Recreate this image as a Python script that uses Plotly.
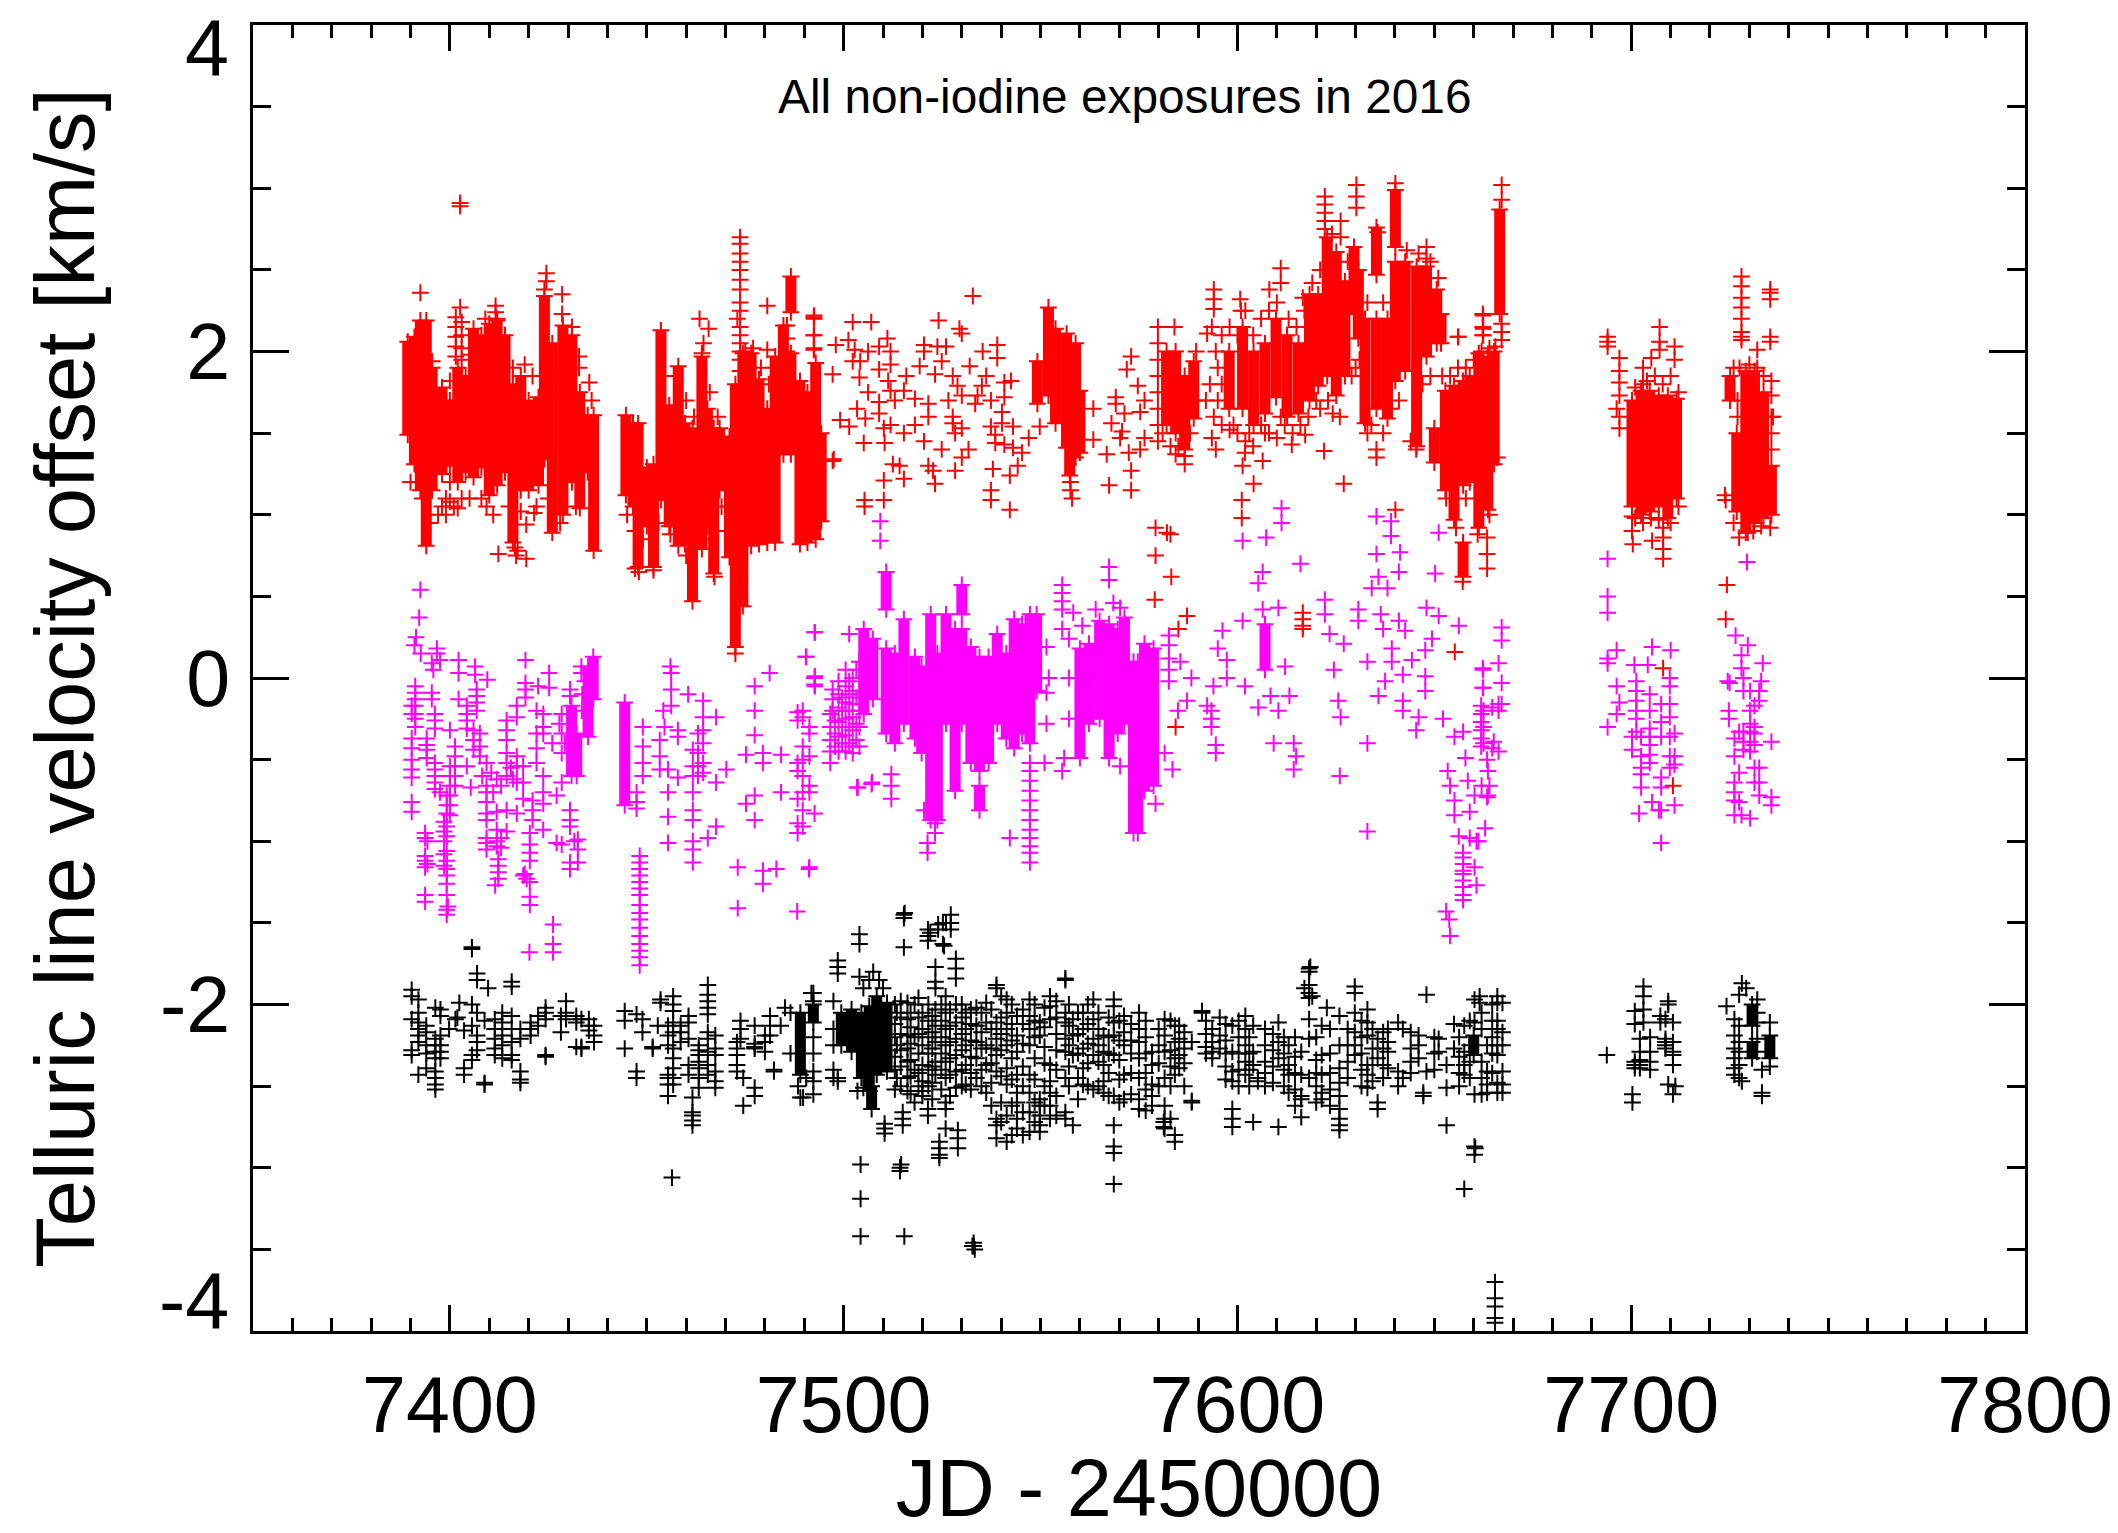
import plotly.graph_objects as go

# Solid runs of overlapping exposures, read as (JD, lowest, highest)
red_bands_a = [(7389.3,1.49,2.06),(7391,1.31,2.09),(7392.5,1.15,2.19),(7394,0.81,2.19),(7395.5,1.15,1.90),(7398,1.25,1.78),
 (7400,1.3,1.7),(7402,1.2,1.9),(7404,1.26,1.85),(7406,1.23,2.14),(7408,1.29,2.10),(7410,1.12,2.17),(7412,1.18,2.19),(7414,1.26,2.10),(7416,0.83,1.80),
 (7418,1.15,1.85),(7420,1.15,1.70),(7422.5,1.18,1.72),(7424,1.34,2.34),(7426,0.89,2.05),(7428.7,1.0,2.16),(7431,1.2,2.10),(7433,1.04,1.75),(7435,1.26,1.61),(7436.5,0.78,1.61)]
red_bands_b = [(7444.7,1.12,1.61),(7446.5,1.05,1.56),(7447.8,0.68,1.56),(7450,0.93,1.29),(7451.7,0.68,1.31),(7453.6,1.09,2.13),(7455.7,0.93,1.67),
 (7458,0.81,1.91),(7459.7,0.82,1.56),(7461.6,0.47,1.53),(7464,0.79,1.97),(7465.4,0.93,1.65),(7467,0.64,1.53),(7468.5,1.15,1.53),(7471,0.74,1.48),
 (7472.5,0.19,1.80),(7474.4,0.44,1.99),(7476.5,0.81,1.99),(7478.5,0.82,1.83),(7480.6,0.83,1.65),(7482.6,0.83,1.97),(7484.7,1.37,2.16),
 (7486.6,2.24,2.46),(7486.6,1.37,1.99),(7488.9,0.82,1.82),(7490.8,0.83,1.75),(7492.9,0.85,1.93),(7494.3,0.96,1.5)]
red_bands_c = [(7549.2,1.68,1.94),(7552,1.73,2.27),(7553.8,1.56,2.14),(7556.6,1.41,2.11),(7558.9,1.35,2.05),(7557.4,1.24,1.47),(7560,1.38,1.76),
 (7582,1.55,2.0),(7584.3,1.5,2.0),(7586.6,1.4,1.85),(7588.9,1.59,1.94),
 (7597.9,1.65,2.0),(7601.3,1.65,2.15),(7604.1,1.55,2.0),(7607,1.62,2.05),(7609.8,1.72,2.2),(7612.6,1.6,2.1),(7615.5,1.62,2.05),(7618.3,1.7,2.35),
 (7620.5,1.79,2.35),(7622.8,1.85,2.70),(7625.1,1.73,2.61),(7627.3,1.85,2.43),(7629.6,2.23,2.64),(7630.7,2.08,2.5),(7632.4,1.56,2.2),(7635.3,1.65,2.2),
 (7635.3,2.47,2.76),(7638.1,1.59,2.2),(7640.1,2.64,2.99),(7640.1,1.82,2.55),(7642.6,1.88,2.55),(7645.5,1.42,2.52),(7648,1.97,2.52),(7650.6,2.05,2.38),(7651.7,2.05,2.23)]
red_bands_d = [(7650,1.32,1.53),(7652.8,1.15,1.76),(7655,0.97,1.79),(7657.3,1.18,1.82),(7657.3,0.62,0.83),(7659,1.2,1.85),(7661.3,0.92,1.99),(7663.6,1.03,1.97),(7665.2,1.31,2.0),(7666.6,2.23,2.87)]
red_bands_e = [(7700.2,1.05,1.70),(7702.5,1.0,1.76),(7704.7,1.02,1.76),(7707,1.05,1.73),(7709.3,0.98,1.73),(7711.5,1.10,1.71),
 (7725.1,1.70,1.85),(7726.8,1.02,1.5),(7729.1,0.89,1.88),(7731.3,0.95,1.88),(7733.6,0.98,1.75),(7735.6,1.0,1.3)]

red_points_a = [(7392.5,2.36),(7402.6,2.91),(7402.6,2.89),(7402.6,2.27),(7401.5,2.21),(7401.5,2.15),(7401.5,2.09),(7401.5,2.03),(7401.5,1.97),(7403,2.18),(7403,2.10),(7403,2.02),(7403,1.95),
 (7400,1.82),(7400,1.62),(7400,1.42),(7400,1.2),(7400,1.08),(7399,1.7),(7399,1.1),(7398,1.05),(7401,1.05),(7402,1.04),(7403,1.1),
 (7424.5,2.48),(7424.5,2.43),(7424,2.38),(7428.5,2.35),(7428.5,2.23),(7411.6,2.28),(7411.6,2.24),(7412,2.2),(7432.8,1.97),(7432.8,1.9),(7435.4,1.81),(7434,1.6),
 (7412.3,0.76),(7419.4,0.73),(7416.8,0.75),(7409.3,1.05),(7421.4,1.01),(7419.4,0.94),(7463.4,2.2),(7465.7,2.14),(7464.4,2.05),(7464,1.99),(7416.5,0.8),(7417.2,0.78),
 (7473.7,2.70),(7473.7,2.66),(7473.7,2.6),(7473.7,2.55),(7473.7,2.5),(7473.7,2.44),(7473.7,2.38),(7473.7,2.3),(7473.7,2.25),(7473,2.2),(7473.7,2.15),(7473.7,2.1),(7473.7,2.05),(7473.7,2.0),(7473.7,1.95),(7473.7,1.88),
 (7480.6,2.28),(7480.6,2.01),(7485.6,2.16),(7485.6,2.08),(7485.6,2.0),(7492.5,2.22),(7492.5,2.2),(7492.5,2.1),(7492.5,2.02),(7467.2,0.62),(7497.5,1.34),(7395.5,1.94),(7448,0.65),(7451.7,0.66),(7447,0.67),(7472.5,0.15),
 (7390,1.2),(7393,1.1),(7395,0.95),(7397,1.0),(7399,1.0),(7405,1.1),(7408,1.1),(7411,1.0),(7415,1.05),(7418,1.02),(7422,1.05),(7425,1.1),(7428,0.95),(7432,1.05),(7436,1.7),(7405,1.98),(7409,2.2),(7416,1.9),(7419,1.92),(7421,1.85),(7423,1.85),(7431,2.15),
 (7445,1.0),(7447,0.9),(7449,0.85),(7453,0.95),(7456,0.88),(7460,0.75),(7463,0.85),(7466,0.85),(7469,1.05),(7470,0.9),(7457,1.85),(7460,1.7),(7462,1.6),(7466,1.75),(7468,1.6),(7475,2.0),(7477,2.02),(7479,1.9),(7481,1.8),(7483,1.9)]
red_points_b = [(7492.4,2.21),(7492.4,2.10),(7492.4,2.01),(7497.2,1.86),(7497.2,1.33),(7498,2.04),(7499.1,1.58),(7501.4,1.54),(7501.2,2.07),(7502.3,2.18),(7502.8,2.01),(7502.3,1.94),(7504.2,1.94),(7504,1.84),(7506.2,2.0),(7507,2.18),(7506.2,1.75),(7503.4,1.65),(7505.5,1.59),(7505.1,1.44),(7505.3,1.09),(7505.3,1.05),
 (7509,2.03),(7511.1,2.08),(7511.9,2.0),(7509,1.89),(7511.9,1.92),(7511.3,1.82),(7511.9,1.76),(7513,1.70),(7515.3,1.76),(7515.9,1.85),(7509,1.69),(7509,1.62),(7510.2,1.53),(7511.9,1.55),(7515.3,1.5),(7510.4,1.44),(7512.5,1.31),(7514.2,1.30),(7515.3,1.22),(7510.2,1.21),(7510.2,1.09),
 (7518.1,1.71),(7518.1,1.55),(7519.3,1.91),(7520.4,2.04),(7520.4,2.0),(7523.2,1.86),(7524.1,2.19),(7523.8,2.03),(7526,2.03),(7524.9,1.94),(7526.6,1.70),(7521.5,1.68),(7521.5,1.6),(7520.4,1.45),(7524.9,1.40),(7521.5,1.30),(7522.7,1.27),(7523.2,1.19),
 (7527.7,1.85),(7528.9,1.79),(7529.4,2.14),(7530,2.11),(7530,1.73),(7527.7,1.56),(7528.3,1.5),(7527.7,1.6),(7530,1.53),(7531.7,1.4),(7530,1.35),(7528.3,1.27),(7532.8,2.34),(7532,1.91),(7533.4,1.68),(7534,1.73),(7535.1,1.79),(7535.3,2.0),(7536.2,1.85),(7537.4,1.70),
 (7539,2.04),(7539,1.96),(7540.8,1.81),(7542.5,1.82),(7540.8,1.72),(7537.4,1.54),(7538.5,1.49),(7538.5,1.44),(7540.2,1.63),(7540.2,1.56),(7543,1.54),(7540.8,1.43),(7543,1.41),(7545.3,1.38),(7544.2,1.30),(7542.2,1.24),(7537.9,1.28),(7537.4,1.15),(7537.4,1.09),(7542.2,1.03),(7547,1.47),(7549.8,1.54),
 (7563.4,1.65),(7569.1,1.72),(7569.1,1.68),(7563.4,1.46),(7566.8,1.37),(7568,1.56),(7571.3,1.62),(7570.7,1.51),(7567.4,1.18),(7573,1.97),(7571.9,1.89),(7575.3,1.63),(7574.7,1.79),(7576.4,1.70),(7576.4,1.47),(7570.2,1.47),(7572.4,1.38),(7573,1.27),(7573,1.15),(7575.3,1.40),(7557.6,1.2),(7557.6,1.15),(7558,1.1)]
red_points_c = [(7584.3,1.37),(7586.6,1.31),(7586.6,1.36),(7579.8,2.15),(7579.8,2.05),(7579.8,1.95),(7579.8,1.85),(7579.8,1.75),(7579.8,1.65),(7579.8,1.55),(7579.8,1.45),(7584,2.15),(7589.5,2.0),
 (7579.2,0.92),(7582.1,0.89),(7583,0.88),(7579.2,0.75),(7583.2,0.62),(7579,0.48),(7587.2,0.38),(7585,0.30),(7584.3,-0.30),(7616.6,0.40),(7616.6,0.36),(7616.6,0.32),(7616.6,0.30),
 (7594,2.38),(7594,2.32),(7594,2.26),(7592.3,2.11),(7593.5,2.15),(7594.5,2.0),(7595,1.9),(7593,1.8),(7595,1.7),(7594,1.6),(7592,1.7),(7596,1.55),(7593.5,1.47),(7594.5,1.4),(7600.7,2.32),(7600.9,2.25),(7608.1,2.38),(7611,2.51),(7611,2.42),(7616.6,2.33),
 (7622.2,2.95),(7622.2,2.9),(7622.2,2.85),(7622.2,2.8),(7622.2,2.75),(7626.2,2.80),(7626.2,2.70),(7630.2,3.02),(7630.2,2.95),(7630.2,2.88),(7635.6,2.73),(7640.1,3.03),(7648,2.64),(7648,2.57),
 (7601.9,1.38),(7601.3,1.3),(7606.4,1.33),(7601.1,1.09),(7601.1,0.98),(7604.1,1.19),(7627,1.19),(7622,1.39),(7635.3,1.40),(7635.3,1.35),(7610,1.47),(7613.8,1.43),(7617.2,1.49),(7624.2,1.62),(7640.1,1.03),(7656,2.09),(7662.4,2.22),(7662.4,2.14),(7662.4,2.1),
 (7598,1.52),(7600,1.5),(7602,1.45),(7604,1.42),(7606,1.55),(7608,1.5),(7612,1.55),(7616,1.55),(7620,1.7),(7630,1.9),(7633,1.5),(7637,1.5),(7644,1.45),(7645.4,1.4),
 (7596,2.1),(7598,2.15),(7600,2.1),(7602,2.25),(7604,2.1),(7606,2.2),(7608,2.25),(7610,2.3),(7613,2.2),(7615,2.15),(7617,2.25),(7619,2.42),(7621,2.5),(7624,2.72),(7628,2.55),(7631,1.95),(7633,2.3),(7637,2.3),(7643,2.62),(7646,2.6),(7649,2.55),(7651,2.45),
 (7596,1.8),(7599,1.55),(7603,1.5),(7607,1.5),(7611,1.6),(7614,1.5),(7618,1.6),(7621,1.65),(7623,1.7),(7626,1.6),(7629,1.85),(7634,1.55),(7639,1.65),(7641,1.7),(7647,1.8),(7649,1.85),(7581,1.5),(7583,1.42),(7585,1.42),(7588,1.5),(7590,1.7)]
red_points_d = [(7656.1,2.09),(7662.3,2.23),(7662.3,2.15),(7662.3,2.1),(7667.1,3.02),(7667.1,2.93),(7667.1,2.07),(7667.1,2.12),(7667.1,2.17),(7694,2.09),(7694,2.06),(7694,2.03),(7697,1.96),(7697,1.88),(7697,1.81),(7697,1.73),(7696.3,1.65),(7697,1.6),(7697,1.53),
 (7707.2,2.15),(7707.2,2.06),(7707.2,2.01),(7711,2.03),(7711,1.95),(7705.1,1.96),(7700.4,0.82),(7700.2,0.90),(7700.2,0.99),(7705.3,0.84),(7708.1,0.73),(7708.1,0.79),(7708.1,0.86),(7708.1,0.92),(7724,1.09),(7724.3,0.57),(7724,0.36),
 (7728,2.46),(7728,2.4),(7728,2.33),(7728,2.27),(7728,2.2),(7728,2.12),(7728,2.07),(7728,2.09),(7732,2.01),(7735.3,2.38),(7735.3,2.32),(7735.3,2.36),(7735.3,2.09),(7735.3,2.06),(7735.6,1.82),(7735.6,1.73),(7735.6,1.6),(7735.6,1.5),(7735.6,1.4),(7727.4,0.86),(7729.6,0.89),(7735.3,0.92),
 (7655.2,0.16),(7708.1,0.06),(7710.6,-0.66),(7663.4,0.86),(7663.4,0.76),(7663.4,0.67),(7657.2,0.59),(7703,1.8),(7703,1.9),(7726,1.9),(7727.5,1.9),(7723.8,1.12),
 (7701,1.78),(7704,1.82),(7706,1.85),(7708,1.8),(7710,1.85),(7712,1.75),(7701,0.98),(7703,0.95),(7705,0.98),(7707,0.97),(7710,0.95),(7712,1.05),(7727,1.6),(7727,1.7),(7730,1.92),(7732,1.9),(7733.6,1.85),(7726,0.95),(7731,0.9),(7733,0.93),(7736,1.6),
 (7652,1.85),(7654,1.85),(7656,1.9),(7658,1.9),(7660,1.95),(7662,2.0),(7664,2.02),(7665.5,2.03),(7653,1.1),(7655.5,0.92),(7658,1.1),(7661,0.88),(7664,1.0),(7666,1.35)]

magenta_bands_a = [(7430.9,-0.60,-0.17),(7432.2,-0.60,-0.34),(7435.1,-0.36,0.07),(7436.4,-0.13,0.13),(7444.4,-0.78,-0.15)]
magenta_bands_b = [(7505.1,-0.22,0.30),(7507.4,-0.13,0.24),(7510.8,0.42,0.65),(7510.8,-0.34,0.18),(7513,-0.40,0.15),(7515.3,-0.28,0.36),(7518.1,-0.37,0.13),(7519.8,-0.46,0.07),(7522.1,-0.87,0.39),(7523.8,-0.87,0.15),
 (7526,-0.28,0.39),(7528.3,-0.69,0.30),(7530,0.39,0.57),(7530,-0.28,0.30),(7532.3,-0.52,0.19),(7534.5,-0.81,-0.66),(7534.5,-0.57,0.13),(7536.8,-0.52,0.13),(7539,-0.28,0.27),(7541.3,-0.37,0.15),(7543.3,-0.43,0.36),(7545.3,-0.34,0.33),(7547.3,-0.40,0.39),(7549,-0.08,0.39)]
magenta_bands_c = [(7560,-0.49,0.18),(7562.3,-0.28,0.21),(7565,-0.25,0.35),(7567.4,-0.49,0.33),(7569.6,-0.34,0.30),(7571.3,-0.28,0.37),(7573.6,-0.95,0.10),(7574.7,-0.95,0.10),(7576.4,-0.69,0.21),(7578.7,-0.66,0.18),(7607,0.05,0.33)]

magenta_points_a = [(7392.5,0.54),(7392.2,0.37),(7391.4,0.25),(7391,0.2),(7392.6,0.15),(7396.7,0.18),(7396.7,0.15),(7397.5,0.11),(7395.4,0.09),(7395.8,0.05),(7402.2,0.11),(7402.2,0.03),(7406.4,0.07),(7406.4,0.02),(7409.5,-0.01),(7402.2,-0.13),
 (7419.2,0.11),(7419.2,-0.03),(7419.2,-0.07),(7419.2,-0.12),(7425.2,0.03),(7425.2,-0.06),(7422.4,-0.05),
 (7391.2,-0.05),(7391.2,-0.09),(7391.2,-0.13),(7391.2,-0.17),(7391.2,-0.22),(7391.2,-0.25),(7391.2,-0.30),(7390.3,-0.17),(7390.3,-0.22),(7390.3,-0.37),(7390.3,-0.43),(7390.3,-0.50),(7390.3,-0.56),(7390.3,-0.61),(7390.3,-0.76),(7390.3,-0.82),
 (7395.4,-0.09),(7395.4,-0.13),(7396.2,-0.22),(7396.2,-0.26),(7396.2,-0.31),(7394.1,-0.37),(7394.1,-0.41),(7394.1,-0.44),(7394.1,-0.49),(7396.2,-0.52),(7396.2,-0.56),(7396.2,-0.60),(7396.2,-0.64),(7396.2,-0.68),(7397.5,-0.70),
 (7400,-0.32),(7400,-0.54),(7400,-0.60),(7400,-0.66),(7400,-0.72),(7401.3,-0.42),(7401.3,-0.48),(7401.3,-0.54),(7401.3,-0.60),(7401.3,-0.66),(7399.2,-0.72),(7399.2,-0.78),
 (7399.2,-0.83),(7399.2,-0.91),(7399.2,-0.97),(7399.2,-1.06),(7399.2,-1.12),(7399.2,-1.17),(7399.2,-1.21),(7399.2,-1.26),(7399.2,-1.33),(7399.2,-1.42),(7399.2,-1.45),(7399.5,-1.40),
 (7393.7,-0.95),(7393.7,-0.98),(7394.3,-1.0),(7393.7,-1.09),(7393.7,-1.12),(7394.3,-1.14),(7393.7,-1.16),(7393.7,-1.33),(7393.7,-1.37),
 (7404.3,-0.17),(7404.3,-0.22),(7404.3,-0.26),(7404.3,-0.31),(7404.3,-0.54),(7405.3,-0.67),(7406.8,-0.07),(7406.8,-0.11),(7406.8,-0.15),(7406.8,-0.2),(7406,-0.32),(7406,-0.38),(7406,-0.44),(7407.6,-0.34),(7407.6,-0.42),(7407.6,-0.48),
 (7409.3,-0.52),(7409.3,-0.66),(7409.3,-0.70),(7409.3,-0.76),(7409.3,-0.83),(7409.3,-0.87),(7409.3,-0.98),(7409.3,-1.01),(7409.3,-1.05),(7411.9,-0.62),(7411.9,-0.82),(7411.9,-0.93),(7411.9,-1.0),(7411.9,-1.03),(7412.3,-1.11),(7412.3,-1.15),(7412.3,-1.19),(7412.3,-1.23),(7411.5,-1.27),
 (7414.4,-0.26),(7414.4,-0.32),(7414.4,-0.38),(7414.4,-0.46),(7414.4,-0.52),(7414.4,-0.6),(7414.4,-0.81),(7414.4,-0.94),(7417,-0.17),(7417,-0.24),(7417,-0.48),(7417,-0.54),(7417,-0.64),(7417,-0.83),
 (7418.6,-0.54),(7418.6,-0.64),(7418.6,-0.74),(7418.6,-1.21),(7419,-1.2),(7419.5,-1.23),(7420.3,-0.95),(7420.3,-1.02),(7420.3,-1.07),(7420.3,-1.12),(7420.3,-1.25),(7420.3,-1.34),(7420.3,-1.39),
 (7422,-0.2),(7422,-0.34),(7422,-0.43),(7422,-0.52),(7423.7,-0.22),(7423.7,-0.3),(7423.7,-0.34),(7423.7,-0.6),(7423.7,-0.7),(7423.7,-0.77),(7423.7,-0.93),(7421,-0.75),(7421,-0.81),(7421,-0.87),
 (7427.1,-0.72),(7427.1,-1.01),(7428.4,-1.02),(7426.2,-1.51),(7426.2,-1.63),(7426.2,-1.68),(7420.2,-1.68),(7428.4,-0.22),(7428.4,-0.34),(7428.4,-0.46),(7428.4,-0.64),(7430.5,-0.07),(7430.5,-0.11),(7431.6,-1.0),(7432.5,-0.99),(7432.5,-1.05),(7432.5,-1.13),(7430.5,-1.13),(7430.5,-1.17),(7430.5,-0.87),(7430.5,-0.91),(7430.5,-0.81),(7433.4,0.07),(7433.4,0.03),
 (7398.5,-0.88),(7398.5,-0.94),(7398.5,-1.0),(7398.5,-1.08),(7398.5,-1.15),(7400,-0.78),(7400,-0.84),(7411,-0.7),(7413,-0.66),(7415.5,-0.55),(7416,-0.62),(7413,-0.98),(7413,-1.04),(7408.2,-0.6),(7410.5,-0.58),(7426,-0.4),(7427.8,-0.28),(7429.2,-0.4),(7433.5,-0.2),(7433.6,-0.1),(7434.3,-0.02)]
magenta_points_b = [(7448.2,-1.09),(7448.2,-1.13),(7448.2,-1.17),(7448.2,-1.21),(7448.2,-1.25),(7448.2,-1.29),(7448.2,-1.33),(7448.2,-1.39),(7448.2,-1.44),(7448.2,-1.48),(7448.2,-1.53),(7448.2,-1.58),(7448.2,-1.63),(7448.2,-1.67),(7448.2,-1.71),(7448.2,-1.76),
 (7449,-0.3),(7449,-0.42),(7449,-0.52),(7449,-0.6),(7447.4,-0.7),(7447.4,-0.76),(7447.4,-0.8),(7454.2,-0.2),(7456,0.07),(7456.2,0.03),(7456.2,-0.07),(7456.2,-0.17),(7454.5,-0.3),(7453.3,-0.38),(7453.3,-0.48),(7453.3,-0.56),(7455.4,-0.56),(7455.4,-0.7),(7455.4,-0.85),(7455.4,-1.01),
 (7457.9,-0.32),(7457.9,-0.36),(7457.9,-0.61),(7460.5,-0.1),(7461.7,-0.44),(7461.7,-0.54),(7461.7,-0.6),(7461.7,-0.7),(7461.7,-0.81),(7461.7,-0.87),(7461.7,-1.0),(7461.7,-1.05),(7461.7,-1.13),(7464.3,-0.14),(7464.3,-0.24),(7464.3,-0.32),(7464.3,-0.4),(7464.3,-0.52),(7464.3,-0.58),(7463,-0.34),(7463,-0.46),(7463,-0.54),(7463,-0.6),
 (7467.6,-0.64),(7467.6,-0.91),(7467.6,-0.24),(7465.5,-0.98),(7470.2,-0.56),(7473.1,-1.16),(7473.1,-1.41),(7475.2,-0.47),(7475.2,-0.77),(7477.4,-0.05),(7477.4,-0.2),(7477.4,-0.35),(7477.4,-0.72),(7477.4,-0.87),(7479.5,-0.46),(7479.5,-0.52),(7479.5,-1.18),(7479.5,-1.26),(7481.2,0.03),(7482.9,-1.17),(7484.1,-0.47),(7484.1,-0.7),
 (7488.2,-1.43),(7491.3,-1.16),(7490.5,0.13),(7492.6,0.28),(7492.6,0.0),(7492.6,-0.04),(7488.3,-0.21),(7488.3,-0.26),(7488.3,-0.52),(7488.3,-0.57),(7488.3,-0.74),(7488.3,-0.89),(7488.3,-0.95),(7489.6,-0.2),(7489.6,-0.24),(7489.6,-0.42),(7489.6,-0.5),(7489.6,-0.6),(7489.6,-0.7),(7489.6,-0.81),(7489.6,-0.91),(7491.3,-0.3),(7491.3,-0.34),(7491.3,-0.48),(7491.3,-0.66),(7491.3,-0.7),(7492.6,-0.83),(7492.7,0.28),(7490.4,0.13),(7492.7,0.01),(7492.7,-0.05),(7491.2,-1.17),
 (7496.6,-0.22),(7496.6,-0.3),(7496.6,-0.38),(7496.6,-0.45),(7496.6,-0.52),(7497.2,-0.07),(7497.2,-0.13),(7497.2,-0.2),(7498.7,-0.02),(7498.7,-0.1),(7498.7,-0.18),(7498.7,-0.27),(7498.7,-0.36),(7498.7,-0.45),(7500.5,0.05),(7500.5,-0.05),(7500.5,-0.15),(7500.5,-0.25),(7500.5,-0.35),(7500.5,-0.45),
 (7502.3,0.0),(7502.3,-0.08),(7502.3,-0.16),(7502.3,-0.24),(7502.3,-0.32),(7502.3,-0.42),(7502.3,-0.46),(7504,0.1),(7504,0.0),(7504,-0.1),(7504,-0.2),(7504,-0.3),(7504,-0.42),(7501.4,0.27),(7503.6,-0.67),(7507.2,-0.64),
 (7497.8,-0.26),(7497.8,-0.34),(7497.8,-0.42),(7499.6,-0.12),(7499.6,-0.2),(7499.6,-0.3),(7499.6,-0.4),(7501.4,-0.02),(7501.4,-0.1),(7501.4,-0.2),(7501.4,-0.3),(7501.4,-0.4),(7503.2,0.05),(7503.2,-0.12),(7503.2,-0.28),(7503.2,-0.38)]
magenta_points_c = [(7509.3,0.96),(7509.3,0.84),(7503.4,-0.67),(7507.1,-0.65),(7512.1,-0.59),(7512.1,-0.66),(7512.1,-0.74),(7520.4,-0.81),(7521.3,-1.01),(7521.3,-1.07),(7523.2,-0.89),(7523.2,-0.95),(7542.2,-0.98),
 (7547.3,-0.52),(7547.3,-0.57),(7547.3,-0.63),(7547.3,-0.69),(7547.3,-0.75),(7547.3,-0.81),(7547.3,-0.87),(7547.3,-0.93),(7547.3,-0.98),(7547.3,-1.03),(7547.3,-1.07),(7547.3,-1.13),(7551,-0.52),(7551.5,0.19),(7552.1,0.0),(7551.5,-0.09),(7551.5,-0.28),
 (7555.5,0.57),(7555.5,0.52),(7555.5,0.47),(7555.5,0.42),(7555.5,0.30),(7557.2,0.24),(7558.3,0.40),(7557.2,0.0),(7557.2,-0.25),(7556,-0.49),(7555.5,-0.57),(7567.4,0.68),(7567.4,0.60),(7568.5,0.46),(7570.2,0.43),(7564,0.42),(7560.6,0.32),(7570.2,-0.54),(7579.2,-0.77),(7581.5,-0.46),(7583.5,-0.56),
 (7582.6,0.26),(7582.6,0.2),(7582.6,0.12),(7582.6,0.05),(7582.6,-0.02),(7585.5,0.1),(7588.3,0.0),(7584.9,-0.2),(7587.2,-0.14),(7593.4,-0.2),(7593.4,-0.25),(7593.4,-0.3),(7592.3,-0.17),(7594.5,-0.41),(7594.5,-0.46),(7593.9,-0.05),(7595,0.18),(7596.2,0.29),(7597.3,0.11),(7597.3,0.0),(7601.9,-0.05),(7601.3,0.35),(7601.3,0.84),(7607.3,0.86),(7611.2,1.04),(7611.2,0.95),
 (7606.4,0.65),(7605.3,0.58),(7606.4,0.42),(7610.4,0.43),(7612.1,0.07),(7608.4,-0.11),(7605.3,-0.18),(7610.4,-0.2),(7613.2,-0.11),(7609.2,-0.4),(7614.3,-0.4),(7614.9,-0.48),(7614.3,-0.56),(7616,0.7),(7622.2,0.48),(7622.2,0.39),(7623.4,0.27),(7627,0.21),(7624.5,0.05),(7625.6,-0.14),(7626.2,-0.24),(7626,-0.6),
 (7633,0.1),(7633,-0.4),(7633,-0.94),(7630.7,0.42),(7630.7,0.35),(7635.3,0.99),(7635.3,0.76),(7639,0.96),(7639,0.87),(7641.3,0.77),(7641,0.65),(7635.8,0.62),(7634.1,0.55),(7638.1,0.55),(7636.4,0.39),(7637,0.3),(7641,0.35),(7642.6,0.29),(7639.2,0.18),(7639.2,0.1),(7637.5,-0.02),(7635.8,-0.11),(7642,0.02),(7642,-0.14),(7642,-0.2),(7644.3,0.11),(7647.7,0.17),(7647.7,0.01),(7647.7,-0.08),(7649.4,0.24),(7651.1,0.38),(7648,0.43),(7651.1,0.89),(7650.2,0.64),(7656.2,0.32),(7652.2,-0.25),(7646,-0.24),(7645.4,-0.32),(7655.1,-0.36),(7657.3,-0.33),(7662.4,0.05),(7662.4,-0.06),(7664.7,-0.18),(7664.7,-0.43)]
magenta_points_d = [(7653.4,-0.57),(7654,-0.66),(7655.1,-0.75),(7655.1,-0.84),(7657.9,-0.49),(7658.5,-0.63),(7660.2,-0.72),(7659,-0.82),(7662,-0.66),(7663.6,-0.57),(7663.6,-0.72),(7656.2,-0.97),(7659,-0.98),(7660.7,-1.0),(7657.3,-1.1),(7657.3,-1.14),(7657.3,-1.18),(7657.3,-1.2),(7657.3,-1.24),(7657.3,-1.28),(7657.3,-1.33),(7657.3,-1.36),(7657.3,-1.07),(7660.2,-1.16),(7660.7,-1.27),(7653,-1.43),(7653.8,-1.48),(7654,-1.58),
 (7661.9,-0.17),(7661.9,-0.22),(7661.9,-0.27),(7661.9,-0.32),(7661.9,-0.37),(7661.9,-0.42),(7662.5,-0.2),(7662.5,-0.3),(7662.5,-0.4),(7667.1,0.31),(7667.1,0.23),(7666.3,0.09),(7662.3,0.06),(7662.3,-0.06),(7667.1,-0.03),(7666.3,-0.16),(7667.1,-0.16),(7666.3,-0.2),(7665.1,-0.39),(7666.3,-0.45),(7663.4,-0.5),(7664,-0.66),(7663.4,-0.73),(7662.9,-0.92),(7661.2,-1.0),
 (7694,0.73),(7694,0.5),(7694,0.4),(7696.3,0.17),(7694,0.12),(7694,0.09),(7696.3,-0.05),(7697,-0.15),(7696.3,-0.22),(7694,-0.3),(7700.8,0.08),(7704.2,0.08),(7705.3,0.19),(7710,0.17),
 (7701.3,-0.02),(7701.3,-0.08),(7701.3,-0.14),(7701.3,-0.2),(7701.3,-0.25),(7701.3,-0.33),(7702.5,-0.36),(7702.5,-0.48),(7702.5,-0.55),(7702.5,-0.59),(7702.5,-0.67),(7704.7,-0.1),(7704.7,-0.2),(7704.7,-0.31),(7704.7,-0.36),(7704.7,-0.41),(7704.7,-0.47),(7704.7,-0.52),
 (7707.6,-0.16),(7707.6,-0.27),(7707.6,-0.36),(7707.6,-0.61),(7707.6,-0.67),(7707.6,-0.81),(7707.6,-1.01),(7709.8,0.0),(7709.8,-0.05),(7709.8,-0.16),(7709.8,-0.24),(7709.8,-0.36),(7709.8,-0.48),(7709.8,-0.55),(7711,-0.34),(7711,-0.48),(7711,-0.53),(7711,-0.78),(7702,-0.83),(7705.3,-0.76),(7707,-0.81),(7700.2,-0.36),(7700.2,-0.44),
 (7726.5,0.26),(7729.6,0.2),(7728,0.14),(7728,0.06),(7733.4,0.09),(7724.5,-0.02),(7725,-0.03),(7729.4,0.71),(7733,-0.02),(7728.5,-0.0),(7728.5,-0.08),(7728.5,-0.33),(7728.5,-0.39),(7728.5,-0.44),(7730.2,-0.08),(7730.2,-0.2),(7730.2,-0.28),(7730.2,-0.33),(7730.2,-0.39),(7730.2,-0.45),(7731.3,-0.17),(7731.3,-0.3),(7731.3,-0.34),(7731.3,-0.41),(7731.3,-0.55),(7731.3,-0.64),(7732.5,-0.08),(7732.5,-0.14),(7732.5,-0.55),(7732.5,-0.64),(7732.5,-0.72),
 (7726.2,-0.37),(7726.2,-0.48),(7726.2,-0.64),(7726.2,-0.7),(7726.2,-0.75),(7726.2,-0.84),(7727.4,-0.33),(7727.4,-0.58),(7727.4,-0.76),(7724.8,-0.2),(7724.8,-0.25),(7728,-0.84),(7730.2,-0.86),(7735.6,-0.39),(7735.6,-0.73),(7735.6,-0.78)]

black_bands = [(7489,-2.43,-2.05),(7492.3,-2.11,-2.0),(7499.4,-2.25,-2.05),(7502,-2.29,-2.03),(7504.5,-2.45,-2.05),(7506.5,-2.53,-2.01),(7508.4,-2.43,-1.95),(7507.1,-2.64,-2.5),(7511,-2.41,-1.99),(7660,-2.31,-2.19),(7730.7,-2.13,-2.0),(7730.7,-2.33,-2.23),(7735.2,-2.33,-2.19)]

black_points_a = [(7390.3,-1.91),(7390.3,-1.95),(7390.3,-2.09),(7390.3,-2.28),(7390.3,-2.31),(7392,-1.97),(7392,-2.05),(7392,-2.11),(7392,-2.15),(7392,-2.19),(7392,-2.23),(7392,-2.43),(7394,-2.13),(7394,-2.17),(7394,-2.25),(7394,-2.30),(7394,-2.39),
 (7396.3,-2.02),(7396.3,-2.21),(7396.3,-2.25),(7396.3,-2.29),(7396.3,-2.33),(7396.3,-2.41),(7396.3,-2.45),(7396.3,-2.49),(7396.3,-2.52),(7397.6,-2.03),(7397.6,-2.07),(7397.6,-2.19),(7397.6,-2.25),(7397.6,-2.29),(7397.6,-2.33),(7399.8,-2.15),(7401.4,-2.09),(7401.9,-2.08),(7402.4,-1.99),
 (7403.6,-2.16),(7403.6,-2.39),(7403.6,-2.43),(7405.6,-1.66),(7405.6,-1.65),(7405.6,-2.0),(7405.6,-2.13),(7405.6,-2.31),(7405.6,-2.34),(7406.9,-1.81),(7406.9,-1.85),(7406.9,-2.05),(7406.9,-2.19),(7406.9,-2.23),(7406.9,-2.28),(7408.8,-2.1),(7408.8,-2.48),(7408.8,-2.49),(7409.7,-1.9),
 (7411.4,-2.09),(7411.4,-2.15),(7411.4,-2.21),(7411.4,-2.27),(7411.4,-2.31),(7413.3,-2.05),(7413.3,-2.11),(7413.3,-2.19),(7413.3,-2.25),(7413.3,-2.33),(7415.7,-1.86),(7415.7,-1.89),(7415.7,-2.07),(7415.7,-2.15),(7415.7,-2.23),(7415.7,-2.31),(7415.7,-2.34),(7417.9,-2.15),(7417.9,-2.21),(7417.9,-2.41),(7417.9,-2.46),(7417.9,-2.48),
 (7420.5,-2.11),(7420.5,-2.15),(7420.5,-2.19),(7422.4,-2.07),(7422.4,-2.13),(7424.3,-2.02),(7424.3,-2.05),(7424.3,-2.09),(7424.3,-2.31),(7424.3,-2.32),(7428.2,-2.07),(7428.2,-2.17),(7429.5,-1.98),(7429.5,-2.05),(7429.5,-2.09),(7432.1,-2.07),(7432.1,-2.11),(7432.1,-2.26),(7433.4,-2.09),(7433.4,-2.26),(7433.4,-2.27),(7435.3,-2.09),(7435.3,-2.13),(7435.3,-2.16),(7436.6,-2.13),(7436.6,-2.19),(7436.6,-2.23),
 (7444.4,-2.04),(7444.4,-2.1),(7444.4,-2.27),(7447.4,-2.06),(7447.4,-2.41),(7447.4,-2.45),(7448.9,-2.09),(7448.9,-2.17),(7451.5,-2.26),(7451.5,-2.27),(7452.8,-2.13),(7453.5,-1.97),(7453.5,-1.99),(7455.4,-2.13),(7455.4,-2.19),(7455.4,-2.25),(7455.4,-2.43),(7455.4,-2.45),(7455.4,-2.49),(7455.4,-2.56),
 (7456.7,-1.95),(7456.7,-2.0),(7456.7,-2.04),(7456.7,-2.11),(7456.7,-2.17),(7456.7,-2.27),(7456.7,-2.33),(7456.7,-2.39),(7456.7,-2.45),(7456.7,-2.49),(7456.4,-3.06),(7458.6,-2.13),(7458.6,-2.17),(7458.6,-2.23),(7460.6,-2.07),(7460.6,-2.11),(7460.6,-2.21),(7460.6,-2.37),(7460.6,-2.43),(7461.6,-2.57),(7461.6,-2.66),(7461.6,-2.68),(7461.6,-2.71),(7461.6,-2.74),
 (7463.2,-2.25),(7463.2,-2.28),(7463.2,-2.31),(7463.2,-2.35),(7463.2,-2.39),(7463.2,-2.45),(7463.2,-2.51),(7465.5,-1.88),(7465.5,-1.94),(7465.5,-1.98),(7465.5,-2.02),(7465.5,-2.06),(7465.5,-2.17),(7465.5,-2.21),(7465.5,-2.29),(7465.5,-2.37),(7465.5,-2.43),(7467.4,-2.19),(7467.4,-2.27),(7467.4,-2.31),(7467.4,-2.41),(7467.4,-2.47),(7467.4,-2.51)]
black_points_b = [(7472.9,-2.23),(7472.9,-2.27),(7472.9,-2.31),(7472.9,-2.37),(7472.9,-2.41),(7473.8,-2.1),(7473.8,-2.15),(7473.8,-2.21),(7474.5,-2.45),(7474.5,-2.62),(7477.4,-2.13),(7477.4,-2.24),(7477.4,-2.26),(7477.4,-2.27),(7477.4,-2.51),(7477.4,-2.56),(7480,-2.19),(7480,-2.23),(7480,-2.29),(7481.3,-2.07),(7481.3,-2.13),(7481.3,-2.19),(7482.3,-2.40),(7482.3,-2.41),(7484,-2.13),(7485.1,-2.02),(7486.5,-2.05),(7486.5,-2.3),(7489.7,-2.57),(7489,-2.57),(7488.4,-2.5),
 (7492.3,-1.93),(7492.3,-1.98),(7491.8,-1.93),(7492.3,-2.2),(7492.3,-2.3),(7492.3,-2.41),(7492.3,-2.47),(7492.3,-2.55),(7490.5,-2.45),(7497.4,-1.98),(7497.4,-2.15),(7497.4,-2.25),(7497.4,-2.4),(7497.4,-2.45),(7498.5,-1.73),(7498.5,-1.77),(7498.5,-1.81),(7498.5,-2.47),(7498.5,-2.45),
 (7504,-1.57),(7504,-1.63),(7504,-1.83),(7504.3,-2.98),(7504.3,-3.19),(7504.3,-3.42),(7505,-1.9),(7506.5,-1.85),(7507.5,-1.8),(7509,-1.85),(7510,-1.9),(7505,-2.51),(7503.5,-2.53),(7515.3,-1.45),(7515.3,-1.47),(7515.5,-1.44),(7515.3,-1.65),(7514.3,-3.0),(7514.3,-3.02),(7514.6,-2.98),(7515.4,-3.42),(7533,-3.48),(7533.3,-3.5),(7532.7,-3.48),(7533,-3.46),
 (7521.4,-1.54),(7521.4,-1.58),(7521.4,-1.61),(7522,-1.56),(7524,-1.51),(7524,-1.54),(7525.2,-1.5),(7525.2,-1.63),(7525.5,-1.64),(7527.2,-1.45),(7527.2,-1.5),(7527.2,-1.54),(7526,-1.5),
 (7516.2,-1.99),(7516.2,-2.09),(7516.2,-2.19),(7516.2,-2.27),(7516.2,-2.35),(7516.2,-2.45),(7516.2,-2.53),(7520,-2.05),(7520,-2.15),(7520,-2.25),(7520,-2.37),(7520,-2.47),(7520,-2.53),(7520,-2.56),(7518,-2.0),(7518,-2.2),(7518,-2.4),(7518,-2.6),(7513.5,-2.05),(7513.5,-2.25),(7513.5,-2.45),
 (7523.3,-1.77),(7523.3,-1.86),(7523.3,-1.9),(7523.3,-2.03),(7523.3,-2.13),(7523.3,-2.23),(7523.3,-2.35),(7523.3,-2.43),(7525.9,-1.95),(7525.9,-2.05),(7525.9,-2.15),(7525.9,-2.25),(7525.9,-2.35),(7525.9,-2.45),(7525.9,-2.6),(7525.9,-2.64),(7525.9,-2.76),
 (7528.5,-1.72),(7528.5,-1.78),(7528.5,-1.84),(7528.5,-2.0),(7528.5,-2.11),(7528.5,-2.21),(7528.5,-2.31),(7528.5,-2.41),(7528.5,-2.51),(7531,-2.05),(7531,-2.15),(7531,-2.25),(7531,-2.37),(7531,-2.49),(7529,-2.77),(7529,-2.82),(7529,-2.88),(7524.3,-2.84),(7524.3,-2.88),(7524.3,-2.92),(7524.3,-2.94),(7521.4,-2.64),(7521.4,-2.68),(7515,-2.66),(7515,-2.70),(7515,-2.74),(7510.4,-2.73),(7510.4,-2.76),(7510.4,-2.79),
 (7533.7,-2.02),(7533.7,-2.13),(7533.7,-2.23),(7533.7,-2.33),(7533.7,-2.45),(7536.2,-1.99),(7536.2,-2.11),(7536.2,-2.25),(7536.2,-2.37),(7536.2,-2.54),(7538.8,-1.88),(7538.8,-1.9),(7538.8,-2.11),(7538.8,-2.21),(7538.8,-2.31),(7538.8,-2.41),(7538.8,-2.70),(7538.8,-2.74),(7538.8,-2.82),
 (7541.4,-1.97),(7541.4,-2.05),(7541.4,-2.15),(7541.4,-2.25),(7541.4,-2.39),(7541.4,-2.49),(7541.4,-2.68),(7541.4,-2.84),(7544,-2.07),(7544,-2.19),(7544,-2.29),(7544,-2.43),(7544,-2.54),(7544,-2.6),(7544,-2.70),(7544,-2.76),(7547.2,-1.97),(7547.2,-2.07),(7547.2,-2.15),(7547.2,-2.25),(7547.2,-2.43),(7547.2,-2.54),(7547.2,-2.66),(7547.2,-2.78),
 (7549.8,-2.11),(7549.8,-2.19),(7549.8,-2.58),(7549.8,-2.62),(7549.8,-2.68),(7549.8,-2.74),(7549.8,-2.78),(7552.4,-1.95),(7552.4,-2.01),(7552.4,-2.09),(7552.4,-2.37),(7552.4,-2.47),(7552.4,-2.54),(7552.4,-2.62),(7552.4,-2.70),(7556.3,-1.84),(7556.3,-1.85),(7556.3,-2.05),(7556.3,-2.11),(7556.3,-2.21),(7556.3,-2.29),(7556.3,-2.45),(7556.3,-2.66),(7556.3,-2.70),
 (7558.2,-2.09),(7558.2,-2.19),(7558.2,-2.31),(7558.2,-2.74),(7560.8,-2.05),(7560.8,-2.15),(7560.8,-2.27),(7560.8,-2.39),(7560.8,-2.49),(7563.4,-1.97),(7563.4,-2.09),(7563.4,-2.21),(7563.4,-2.31),(7563.4,-2.52),(7566,-2.19),(7566,-2.29),(7566,-2.37),(7566,-2.47),(7566,-2.54),
 (7568.6,-1.97),(7568.6,-2.01),(7568.6,-2.11),(7568.6,-2.19),(7568.6,-2.31),(7568.6,-2.56),(7568.6,-2.74),(7568.6,-2.87),(7568.6,-2.91),(7568.6,-3.1),(7571.2,-2.07),(7571.2,-2.17),(7571.2,-2.25),(7571.2,-2.43),(7571.2,-2.58),(7575,-2.05),(7575,-2.15),(7575,-2.23),(7575,-2.33),(7575,-2.45),(7575,-2.58),(7575,-2.64),(7578.3,-2.29),(7578.3,-2.37),(7578.3,-2.49),(7578.3,-2.56),(7578.3,-2.62)]
black_points_c = [(7581.5,-2.09),(7581.5,-2.19),(7581.5,-2.29),(7581.5,-2.45),(7581.5,-2.62),(7581.5,-2.70),(7581.5,-2.76),(7581.3,-2.72),(7581.3,-2.75),(7584.1,-2.13),(7584.1,-2.23),(7584.1,-2.33),(7584.1,-2.43),(7584.1,-2.80),(7584.1,-2.84),(7585.2,-2.13),(7585.2,-2.21),(7585.2,-2.31),(7585.2,-2.39),
 (7588.4,-2.23),(7588.4,-2.59),(7588.4,-2.6),(7591,-2.04),(7591,-2.05),(7593.6,-2.15),(7593.6,-2.23),(7593.6,-2.29),(7593.6,-2.33),(7595.5,-2.08),(7595.5,-2.19),(7595.5,-2.27),(7598.7,-2.13),(7598.7,-2.29),(7598.7,-2.41),(7598.7,-2.47),(7598.7,-2.64),(7598.7,-2.70),(7598.7,-2.75),
 (7602,-2.07),(7602,-2.15),(7602,-2.25),(7602,-2.35),(7602,-2.43),(7604,-2.13),(7604,-2.29),(7604,-2.37),(7604,-2.72),(7605.2,-2.45),(7605.2,-2.47),(7610.4,-2.11),(7610.4,-2.23),(7610.4,-2.33),(7610.4,-2.75),(7613,-2.25),(7613,-2.37),(7613,-2.43),(7613,-2.54),(7616.2,-2.29),(7616.2,-2.43),(7616.2,-2.56),(7616.2,-2.58),(7616.2,-2.69),
 (7618.2,-1.78),(7618.2,-1.8),(7618.5,-1.77),(7618.2,-1.88),(7618.2,-1.93),(7618.2,-1.96),(7618.2,-2.09),(7618.2,-2.21),(7618.2,-2.45),(7617,-1.9),(7619,-1.95),(7621.4,-2.13),(7621.4,-2.31),(7621.4,-2.43),(7621.4,-2.54),(7621.4,-2.58),(7622.7,-2.02),(7625.9,-2.07),(7625.9,-2.25),(7625.9,-2.39),(7625.9,-2.48),(7625.9,-2.56),(7625.9,-2.64),(7625.9,-2.70),(7625.9,-2.74),(7625.9,-2.77),
 (7629.8,-1.89),(7629.8,-1.93),(7629.8,-2.05),(7629.8,-2.17),(7629.8,-2.25),(7629.8,-2.31),(7633,-2.03),(7633,-2.11),(7633,-2.19),(7633,-2.37),(7633,-2.43),(7633,-2.51),(7635.6,-2.21),(7635.6,-2.33),(7635.6,-2.6),(7635.6,-2.64),(7638.2,-2.15),(7638.2,-2.23),(7638.2,-2.29),(7638.2,-2.39),(7640.8,-2.11),(7640.8,-2.41),(7640.8,-2.5),(7642,-2.15),(7642,-2.45),
 (7646,-2.19),(7646,-2.25),(7646,-2.33),(7647.2,-2.54),(7647.2,-2.56),(7648,-1.94),(7648,-2.41),(7651.1,-2.21),(7651.1,-2.29),(7653.1,-2.37),(7653.1,-2.74),(7653.1,-2.51),(7655,-2.12),(7655,-2.27),(7657.6,-3.13),(7657.6,-2.13),(7657.6,-2.29),(7657.6,-2.37),(7657.6,-2.43),
 (7660.2,-2.87),(7660.2,-2.92),(7660.4,-2.88),(7660.2,-1.97),(7660.2,-2.11),(7660.2,-2.55),(7661.5,-1.95),(7661.5,-1.99),(7663.4,-2.25),(7663.4,-2.41),(7663.4,-2.49),(7663.4,-2.54),(7665.4,-3.7),(7665.4,-3.8),(7665.4,-3.85),(7665.4,-3.92),(7665.4,-3.95),(7666,-1.95),(7666,-1.99),(7666,-2.1),(7666,-2.15),(7666,-2.25),(7666,-2.31),(7666,-2.48),(7666,-2.54),(7667.3,-1.99),(7667.3,-2.17),(7667.3,-2.25),(7667.3,-2.41),(7667.3,-2.49),(7667.3,-2.54),
 (7693.8,-2.31),(7700.3,-2.55),(7700.3,-2.6),(7700.9,-2.04),(7700.9,-2.12),(7700.9,-2.35),(7700.9,-2.37),(7700.9,-2.39),(7702.2,-2.21),(7702.2,-2.29),(7702.2,-2.34),(7702.2,-2.37),(7702.2,-2.39),(7703.1,-1.89),(7703.1,-1.95),(7703.1,-2.03),(7703.1,-2.11),(7704.8,-2.2),(7704.8,-2.29),(7704.8,-2.35),(7704.8,-2.4),
 (7707.4,-2.07),(7707.4,-2.11),(7708.7,-2.09),(7708.7,-2.21),(7708.7,-2.23),(7708.7,-2.25),(7708.7,-2.27),(7709.4,-1.98),(7709.4,-2.0),(7709.4,-2.49),(7710.6,-2.11),(7710.6,-2.23),(7710.6,-2.29),(7710.6,-2.31),(7710.6,-2.37),(7710.6,-2.55),(7711.2,-2.5),
 (7724.2,-2.01),(7726.2,-2.09),(7726.2,-2.19),(7726.2,-2.27),(7726.2,-2.33),(7726.2,-2.39),(7726.2,-2.43),(7727.4,-1.94),(7727.4,-2.13),(7727.4,-2.23),(7727.4,-2.29),(7727.4,-2.37),(7727.4,-2.45),(7728.1,-1.87),(7728.1,-2.47),(7729.2,-1.9),(7732,-1.97),(7732,-2.05),(7732,-2.11),(7732,-2.21),(7732,-2.29),(7733.2,-2.4),(7733.2,-2.54),(7733.2,-2.56),(7735.2,-2.11),(7735.2,-2.38)]

# Extra exposures in the crowded part of the black band, read as (JD, [values])
black_columns_d = [(7513,[-2.0,-2.12,-2.2,-2.32,-2.4,-2.52]),(7514.5,[-1.98,-2.08,-2.18,-2.28,-2.38,-2.5]),(7517,[-2.05,-2.14,-2.24,-2.34,-2.44,-2.55]),(7519,[-1.96,-2.08,-2.18,-2.3,-2.42,-2.5]),(7521.5,[-2.0,-2.1,-2.2,-2.3,-2.4,-2.5]),(7522.5,[-2.07,-2.17,-2.27,-2.38,-2.48,-2.58]),
 (7524.8,[-2.0,-2.1,-2.2,-2.3,-2.4,-2.52]),(7527,[-2.03,-2.13,-2.23,-2.33,-2.43,-2.56]),(7530,[-2.0,-2.08,-2.18,-2.28,-2.4,-2.5]),(7532.3,[-2.03,-2.12,-2.22,-2.32,-2.42,-2.52]),(7535,[-2.05,-2.17,-2.27,-2.4,-2.5]),(7537.5,[-2.03,-2.15,-2.27,-2.36,-2.48,-2.62]),
 (7540,[-1.95,-2.08,-2.18,-2.28,-2.44,-2.6,-2.72]),(7542.7,[-2.0,-2.12,-2.22,-2.33,-2.46,-2.62,-2.8]),(7545.5,[-2.03,-2.12,-2.24,-2.38,-2.5,-2.66,-2.8]),(7548.5,[-2.0,-2.1,-2.2,-2.33,-2.46,-2.6,-2.72]),(7551,[-2.02,-2.14,-2.26,-2.36,-2.5,-2.62]),(7554,[-1.98,-2.08,-2.18,-2.28,-2.4,-2.56,-2.68]),
 (7557.2,[-2.0,-2.13,-2.25,-2.38,-2.5]),(7559.5,[-2.05,-2.18,-2.3,-2.45,-2.58]),(7562,[-2.0,-2.12,-2.24,-2.36,-2.5]),(7564.7,[-2.05,-2.15,-2.25,-2.35,-2.5]),(7567.3,[-2.08,-2.2,-2.3,-2.42,-2.56]),(7570,[-2.1,-2.22,-2.34,-2.46,-2.6]),(7573,[-2.12,-2.22,-2.3,-2.42,-2.55]),(7576.7,[-2.1,-2.2,-2.3,-2.42,-2.52,-2.65]),(7580,[-2.15,-2.25,-2.36,-2.5]),(7583,[-2.1,-2.28,-2.38,-2.5,-2.7]),(7586.5,[-2.17,-2.27,-2.36,-2.5]),
 (7592,[-2.1,-2.18,-2.26,-2.3]),(7597,[-2.12,-2.22,-2.3,-2.38,-2.46]),(7600.3,[-2.1,-2.2,-2.3,-2.4,-2.5]),(7603,[-2.2,-2.3,-2.4,-2.5]),(7607,[-2.15,-2.25,-2.35,-2.42,-2.5]),(7609,[-2.18,-2.28,-2.38,-2.48]),(7611.8,[-2.2,-2.3,-2.4,-2.5]),(7614.6,[-2.2,-2.32,-2.42,-2.52,-2.62]),(7620,[-2.2,-2.34,-2.42,-2.5,-2.6]),(7623.5,[-2.15,-2.3,-2.42,-2.52,-2.62]),(7628,[-2.15,-2.25,-2.35,-2.45]),(7631.5,[-2.1,-2.2,-2.3,-2.4,-2.5]),(7634.3,[-2.15,-2.27,-2.37,-2.47]),(7637,[-2.17,-2.27,-2.37,-2.45]),(7644,[-2.17,-2.27,-2.35,-2.42]),(7650,[-2.2,-2.3,-2.4]),(7656.3,[-2.2,-2.32,-2.42,-2.5]),(7659,[-2.1,-2.25,-2.35,-2.45]),(7662,[-2.05,-2.15,-2.35,-2.45,-2.55]),(7664.7,[-2.0,-2.1,-2.2,-2.3,-2.42])]

x_ticks = [7400, 7500, 7600, 7700, 7800]
y_ticks = [-2, 0, 2]
y_corner_labels = [4, -4]
title_text = "All non-iodine exposures in 2016"
x_title = "JD - 2450000"
y_title = "Telluric line velocity offset [km/s]"

FONT = "Liberation Sans"
BAND_W = 2.8
fig = go.Figure()

def add_series(color, bands, points):
    bx = [b[0] for b in bands]
    lo = [b[1] for b in bands]
    hi = [b[2] for b in bands]
    fig.add_trace(go.Bar(x=bx, y=[h - l for h, l in zip(hi, lo)], base=lo, width=BAND_W,
                         marker=dict(color=color, line=dict(width=0)), showlegend=False))
    px = bx + bx + [p[0] for p in points]
    py = lo + hi + [p[1] for p in points]
    fig.add_trace(go.Scatter(x=px, y=py, mode="markers", showlegend=False,
                             marker=dict(symbol="cross-thin-open", size=12, color=color, line=dict(color=color, width=2))))

black_extra = [(c[0], v) for c in black_columns_d for v in c[1]]
add_series("#000000", black_bands, black_points_a + black_points_b + black_points_c + black_extra)
add_series("#ff0000", red_bands_a + red_bands_b + red_bands_c + red_bands_d + red_bands_e,
           red_points_a + red_points_b + red_points_c + red_points_d)
add_series("#ff00ff", magenta_bands_a + magenta_bands_b + magenta_bands_c,
           magenta_points_a + magenta_points_b + magenta_points_c + magenta_points_d)

fig.update_layout(
    width=2118, height=1533, margin=dict(l=253, r=93, t=25, b=202, pad=0),
    paper_bgcolor="white", plot_bgcolor="white", barmode="overlay", showlegend=False,
    font=dict(family=FONT, color="black"),
)
fig.update_xaxes(
    range=[7350, 7800], tickmode="array", tickvals=x_ticks, ticktext=[str(v) for v in x_ticks],
    ticks="inside", ticklen=26, tickwidth=3, tickcolor="black",
    minor=dict(tickmode="linear", tick0=7400, dtick=10, ticks="inside", ticklen=13, tickwidth=3, tickcolor="black"),
    showgrid=False, zeroline=False, showline=True, linewidth=3, linecolor="black", mirror="ticks",
    tickfont=dict(size=79, family=FONT), ticklabelstandoff=3,
    title=dict(text=x_title, font=dict(size=81, family=FONT), standoff=36), automargin=False,
)
fig.update_yaxes(
    range=[-4, 4], tickmode="array", tickvals=y_ticks, ticktext=[str(v) for v in y_ticks],
    ticks="inside", ticklen=36, tickwidth=3, tickcolor="black",
    minor=dict(tickmode="linear", tick0=0, dtick=0.5, ticks="inside", ticklen=18, tickwidth=3, tickcolor="black"),
    showgrid=False, zeroline=False, showline=True, linewidth=3, linecolor="black", mirror="ticks",
    tickfont=dict(size=79, family=FONT), ticklabelstandoff=4,
    title=dict(text=y_title, font=dict(size=83, family=FONT), standoff=38), automargin=False,
)
for val in y_corner_labels:
    fig.add_annotation(xref="paper", yref="y", x=0, y=val, xanchor="right", yanchor="top" if val > 0 else "bottom",
                       xshift=-22, yshift=24 if val > 0 else -16, text=str(val), showarrow=False, font=dict(size=79, family=FONT))
fig.add_annotation(xref="paper", yref="paper", x=0.492, y=0.9456, xanchor="center", yanchor="middle", text=title_text,
                   showarrow=False, font=dict(size=47.8, family=FONT))

fig.write_html("out.html", config={"displayModeBar": False}, post_script="document.body.style.margin='0';")
